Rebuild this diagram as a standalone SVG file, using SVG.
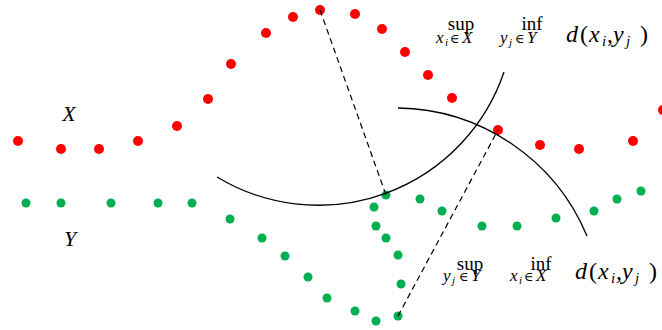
<svg xmlns="http://www.w3.org/2000/svg" width="662" height="330" viewBox="0 0 662 330">
<style>
.r{fill:#FF0000}
.g{fill:#00B050}
.arc{fill:none;stroke:#000;stroke-width:1.3}
.dash{fill:none;stroke:#000;stroke-width:1.2;stroke-dasharray:6,4}
text{font-family:"Liberation Serif","DejaVu Serif",serif;fill:#000}
.it{font-style:italic}
.op{font-size:19px}
.s{font-size:17px}
.ss{font-size:11px}
.el{font-size:13px}
.big{font-size:24px}
.bs{font-size:15px}
</style>
<rect width="662" height="330" fill="#fff"/>
<g id="X-points">
<circle class="r" cx="18" cy="141" r="5"/>
<circle class="r" cx="61" cy="149" r="5"/>
<circle class="r" cx="99" cy="149" r="5"/>
<circle class="r" cx="138" cy="141" r="5"/>
<circle class="r" cx="177" cy="126" r="5"/>
<circle class="r" cx="208" cy="99" r="5"/>
<circle class="r" cx="231" cy="64" r="5"/>
<circle class="r" cx="266" cy="33" r="5"/>
<circle class="r" cx="293" cy="17" r="5"/>
<circle class="r" cx="320" cy="10" r="5"/>
<circle class="r" cx="355" cy="14" r="5"/>
<circle class="r" cx="382" cy="29" r="5"/>
<circle class="r" cx="405" cy="52" r="5"/>
<circle class="r" cx="428" cy="75" r="5"/>
<circle class="r" cx="452" cy="98" r="5"/>
<circle class="r" cx="498" cy="130" r="5"/>
<circle class="r" cx="540" cy="145" r="5"/>
<circle class="r" cx="579" cy="149" r="5"/>
<circle class="r" cx="633" cy="141" r="5"/>
<circle class="r" cx="663" cy="110" r="5"/>
</g>
<g id="Y-points">
<circle class="g" cx="26" cy="203" r="4.5"/>
<circle class="g" cx="61" cy="203" r="4.5"/>
<circle class="g" cx="111" cy="203" r="4.5"/>
<circle class="g" cx="158" cy="203" r="4.5"/>
<circle class="g" cx="192" cy="203" r="4.5"/>
<circle class="g" cx="230" cy="219" r="4.5"/>
<circle class="g" cx="262" cy="238" r="4.5"/>
<circle class="g" cx="285" cy="256" r="4.5"/>
<circle class="g" cx="308" cy="277" r="4.5"/>
<circle class="g" cx="327" cy="298" r="4.5"/>
<circle class="g" cx="355" cy="311" r="4.5"/>
<circle class="g" cx="376" cy="321" r="4.5"/>
<circle class="g" cx="398" cy="316" r="4.5"/>
<circle class="g" cx="401" cy="284" r="4.5"/>
<circle class="g" cx="398" cy="255" r="4.5"/>
<circle class="g" cx="386" cy="238" r="4.5"/>
<circle class="g" cx="376" cy="226" r="4.5"/>
<circle class="g" cx="374" cy="207" r="4.5"/>
<circle class="g" cx="386" cy="195" r="4.5"/>
<circle class="g" cx="420" cy="199" r="4.5"/>
<circle class="g" cx="442" cy="211" r="4.5"/>
<circle class="g" cx="482" cy="226" r="4.5"/>
<circle class="g" cx="517" cy="226" r="4.5"/>
<circle class="g" cx="556" cy="218" r="4.5"/>
<circle class="g" cx="594" cy="211" r="4.5"/>
<circle class="g" cx="617" cy="199" r="4.5"/>
<circle class="g" cx="641" cy="191" r="4.5"/>
</g>
<g id="arcs">
<path class="arc" d="M217,177 A196,196 0 0 0 504,72"/>
<path class="arc" d="M398,108 A208,208 0 0 1 587,236"/>
</g>
<g id="connectors">
<line class="dash" x1="320" y1="10" x2="386" y2="195"/>
<line class="dash" x1="398" y1="316" x2="498" y2="130"/>
</g>
<g id="labels">
<text class="it" x="69" y="121" font-size="22" text-anchor="middle">X</text>
<text class="it" x="70" y="246" font-size="22" text-anchor="middle">Y</text>
</g>
<g id="formula-top">
<text class="op" x="461" y="30" text-anchor="middle">sup</text>
<text class="op" x="532" y="30" text-anchor="middle">inf</text>
<text><tspan class="it s" x="436" y="43">x</tspan><tspan class="it ss" x="445" y="46">i</tspan><tspan class="el" x="450" y="43">∈</tspan><tspan class="it s" x="462" y="43">X</tspan></text>
<text><tspan class="it s" x="500" y="43">y</tspan><tspan class="it ss" x="509" y="46">j</tspan><tspan class="el" x="515" y="43">∈</tspan><tspan class="it s" x="527" y="43">Y</tspan></text>
<text><tspan class="it big" x="566" y="42">d</tspan><tspan class="big" x="580" y="42">(</tspan><tspan class="it big" x="589" y="42">x</tspan><tspan class="it bs" x="602" y="46">i</tspan><tspan class="big" x="607" y="42">,</tspan><tspan class="it big" x="613" y="42">y</tspan><tspan class="it bs" x="626" y="46">j</tspan><tspan class="big" x="640" y="42">)</tspan></text>
</g>
<g id="formula-bottom">
<text class="op" x="470" y="270" text-anchor="middle">sup</text>
<text class="op" x="541" y="270" text-anchor="middle">inf</text>
<text><tspan class="it s" x="443" y="281">y</tspan><tspan class="it ss" x="452" y="284">j</tspan><tspan class="el" x="459" y="281">∈</tspan><tspan class="it s" x="471" y="281">Y</tspan></text>
<text><tspan class="it s" x="510" y="281">x</tspan><tspan class="it ss" x="519" y="284">i</tspan><tspan class="el" x="524" y="281">∈</tspan><tspan class="it s" x="536" y="281">X</tspan></text>
<text><tspan class="it big" x="575" y="279">d</tspan><tspan class="big" x="589" y="279">(</tspan><tspan class="it big" x="598" y="279">x</tspan><tspan class="it bs" x="611" y="283">i</tspan><tspan class="big" x="616" y="279">,</tspan><tspan class="it big" x="622" y="279">y</tspan><tspan class="it bs" x="635" y="283">j</tspan><tspan class="big" x="649" y="279">)</tspan></text>
</g>
</svg>
